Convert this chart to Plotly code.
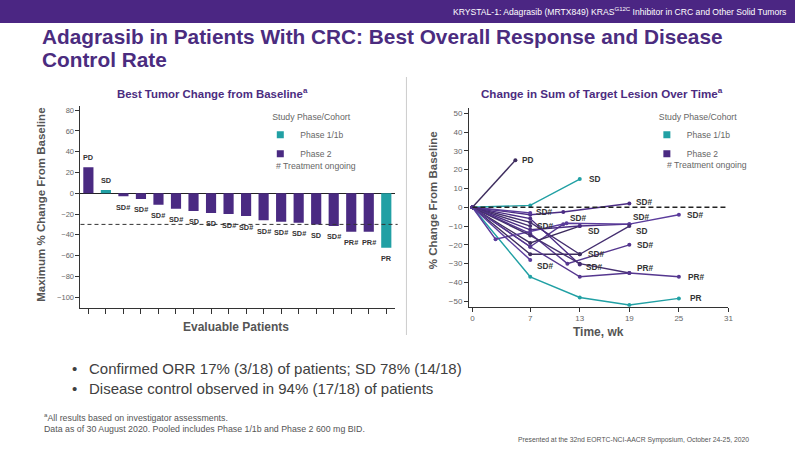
import plotly.graph_objects as go

W, H = 800, 450


def px(x):
    return x / W


def py(y):
    return 1 - y / H


# ---------------- data ----------------
patients = list(range(1, 19))
best_change = [25, 3, -3, -5.5, -11, -15, -17, -19, -20, -22, -26, -27.5, -28.5,
               -30, -31.5, -37, -37, -52.5]
best_response = ["PD", "SD", "SD#", "SD#", "SD#", "SD#", "SD", "SD", "SD#", "SD#",
                 "SD#", "SD#", "SD#", "SD", "SD#", "PR#", "PR#", "PR"]
bar_cohort = ["Phase 2", "Phase 1/1b"] + ["Phase 2"] * 15 + ["Phase 1/1b"]
pr_threshold = -30
left_y_ticks = [80, 60, 40, 20, 0, -20, -40, -60, -80, -100]

spider_weeks = [
    [0, 5.2],
    [0, 7, 13],
    [0, 7, 13, 19, 25],
    [0, 7, 11, 19],
    [0, 7],
    [0, 7],
    [0, 7, 11],
    [0, 7, 13],
    [0, 7, 13, 19],
    [0, 2.8, 11.4, 19, 25],
    [0, 7, 13, 19],
    [0, 7, 11.5, 19],
    [0, 7, 13],
    [0, 7, 13],
    [0, 7],
    [0, 7, 13, 19],
    [0, 7, 13, 19, 25],
]
spider_change = [
    [0, 25],
    [0, 1, 15],
    [0, -37, -48, -52, -48.5],
    [0, -4, -2.5, 2],
    [0, -3],
    [0, -10],
    [0, -21, -9],
    [0, -19, -10],
    [0, -12, -10, -9],
    [0, -17, -8.5, -9, -4],
    [0, -8, -25, -10],
    [0, -14, -30, -20],
    [0, -25, -25],
    [0, -6, -30.5],
    [0, -28],
    [0, -15, -30, -35],
    [0, -21, -37, -35, -37],
]
spider_response = ["PD", "SD", "PR", "SD#", "SD#", "SD#", "SD#", "SD", "SD#", "SD#",
                   "SD", "SD#", "SD#", "SD#", "SD#", "PR#", "PR#"]
spider_cohort = ["Phase 2", "Phase 1/1b", "Phase 1/1b"] + ["Phase 2"] * 14
time_ticks = [0, 7, 13, 19, 25, 31]
right_y_ticks = [50, 40, 30, 20, 10, 0, -10, -20, -30, -40, -50]
cohorts = ["Phase 1/1b", "Phase 2"]

# ---------------- styles ----------------
FONT = "Liberation Sans, Arial, sans-serif"
PURPLE = "#4A2A82"
TEAL = "#21A0A4"
TITLE_PURPLE = "#4B2C7F"
AXIS_GREY = "#555555"
COHORT_COLOR = {"Phase 1/1b": TEAL, "Phase 2": PURPLE}
LINE_SHADES = ["#3E2D5E", "#4B2C84", "#5B3C9C", "#452F70", "#55378F"]
# label pixel offsets (xshift, yshift) for spider end labels
label_offsets = [(5, 0), (7, 0), (9, 0), (5, 2), (4, 1), (5, 0), (5, 6), (6, -5), (2, 7),
                 (6, 0), (5, -5), (6, 0), (6, 0), (4, -2), (5, -6), (6, 5), (7, 0)]

fig = go.Figure()

# ---------------- left: waterfall ----------------
fig.add_trace(go.Bar(
    x=patients, y=best_change,
    marker=dict(color=[COHORT_COLOR[c] for c in bar_cohort], line=dict(width=0)),
    width=0.58, showlegend=False, xaxis="x", yaxis="y", hoverinfo="skip",
))

annotations = []
for p, v, lab in zip(patients, best_change, best_response):
    annotations.append(dict(
        x=p, y=v, xref="x", yref="y", text=f"<b>{lab}</b>", showarrow=False,
        yanchor="middle", yshift=10 if v > 0 else -11,
        font=dict(family=FONT, size=7.3, color="#333333"),
    ))

# ---------------- right: spider plot ----------------
shade_i = 0
for i, (wk, ch, lab, coh) in enumerate(zip(spider_weeks, spider_change, spider_response, spider_cohort)):
    if coh == "Phase 1/1b":
        col = TEAL
    else:
        col = LINE_SHADES[shade_i % len(LINE_SHADES)]
        shade_i += 1
    fig.add_trace(go.Scatter(
        x=wk, y=ch, mode="lines+markers", xaxis="x2", yaxis="y2",
        line=dict(color=col, width=1.4), marker=dict(color=col, size=4),
        showlegend=False, hoverinfo="skip",
    ))
    dx, dy = label_offsets[i]
    annotations.append(dict(
        x=wk[-1], y=ch[-1], xref="x2", yref="y2", text=f"<b>{lab}</b>", showarrow=False,
        xanchor="left", yanchor="middle", xshift=dx, yshift=dy,
        font=dict(family=FONT, size=8.3, color="#333333"),
    ))

# legend entries (library legends)
for lg in ["legend", "legend2"]:
    for c in cohorts:
        fig.add_trace(go.Scatter(
            x=[None], y=[None], mode="markers", name=c, legend=lg,
            marker=dict(symbol="square", size=7, color=COHORT_COLOR[c]),
            xaxis="x" if lg == "legend" else "x2", yaxis="y" if lg == "legend" else "y2",
        ))

legend_common = dict(
    title=dict(text="Study Phase/Cohort", font=dict(family=FONT, size=8.7, color="#666666")),
    font=dict(family=FONT, size=8.5, color="#666666"),
    bgcolor="rgba(0,0,0,0)", borderwidth=0, indentation=-10,
    xanchor="left", yanchor="top", tracegroupgap=0, itemwidth=30,
)

shapes = [
    # banner
    dict(type="rect", xref="paper", yref="paper", x0=0, x1=1, y0=py(23), y1=1,
         fillcolor="#4B2683", line=dict(width=0), layer="below"),
    # separator
    dict(type="line", xref="paper", yref="paper", x0=px(409), x1=px(409), y0=py(77), y1=py(335),
         line=dict(color="#CCCCCC", width=1)),
    # PR threshold line
    dict(type="line", xref="x domain", yref="y", x0=0, x1=1.01, y0=pr_threshold, y1=pr_threshold,
         line=dict(color="#333333", width=1, dash="4px,3px")),
    # zero reference on spider
    dict(type="line", xref="x2", yref="y2", x0=0, x1=time_ticks[-1], y0=0, y1=0,
         line=dict(color="#222222", width=1.3, dash="5px,3px")),
]


def ann(x, y, text, size, color, bold=False, xanchor="left", angle=0):
    return dict(x=px(x), y=py(y), xref="paper", yref="paper", text=f"<b>{text}</b>" if bold else text,
                showarrow=False, xanchor=xanchor, yanchor="middle", textangle=angle,
                font=dict(family=FONT, size=size, color=color))


annotations += [
    ann(793, 12, "KRYSTAL-1: Adagrasib (MRTX849) KRAS<sup>G12C</sup> Inhibitor in CRC and Other Solid Tumors",
        8.6, "white", xanchor="right"),
    ann(40, 37, "Adagrasib in Patients With CRC: Best Overall Response and Disease", 20.8, TITLE_PURPLE, bold=True),
    ann(40, 59, "Control Rate", 20.8, TITLE_PURPLE, bold=True),
    ann(214, 93, "Best Tumor Change from Baseline<sup>a</sup>", 11.4, TITLE_PURPLE, bold=True, xanchor="center"),
    ann(606, 93, "Change in Sum of Target Lesion Over Time<sup>a</sup>", 11.6, TITLE_PURPLE, bold=True, xanchor="center"),
    ann(41, 205, "Maximum % Change From Baseline", 11.5, AXIS_GREY, bold=True, xanchor="center", angle=-90),
    ann(237, 327, "Evaluable Patients", 12, AXIS_GREY, bold=True, xanchor="center"),
    ann(436, 200, "% Change From Baseline", 11.5, AXIS_GREY, bold=True, xanchor="center", angle=-90),
    ann(602, 332, "Time, wk", 12, AXIS_GREY, bold=True, xanchor="center"),
    ann(276, 166, "# Treatment ongoing", 8.7, "#666666"),
    ann(669, 165, "# Treatment ongoing", 8.7, "#666666"),
    ann(70, 368, "•", 15, "#404040"),
    ann(88, 368, "Confirmed ORR 17% (3/18) of patients; SD 78% (14/18)", 15, "#404040"),
    ann(70, 388, "•", 15, "#404040"),
    ann(88, 388, "Disease control observed in 94% (17/18) of patients", 15, "#404040"),
    ann(42, 417, "<sup>a</sup>All results based on investigator assessments.", 8.8, "#555555"),
    ann(42, 429, "Data as of 30 August 2020. Pooled includes Phase 1/1b and Phase 2 600 mg BID.", 8.8, "#555555"),
    ann(756, 440, "Presented at the 32nd EORTC-NCI-AACR Symposium, October 24-25, 2020", 6.8, "#555555",
        xanchor="right"),
]

axis_common = dict(showgrid=False, showline=True, linecolor="#333333", linewidth=1,
                   ticks="outside", tickcolor="#333333", ticklen=4, tickwidth=1)

fig.update_layout(
    width=W, height=H, autosize=False,
    margin=dict(l=0, r=0, t=0, b=0),
    paper_bgcolor="white", plot_bgcolor="rgba(0,0,0,0)",
    font=dict(family=FONT),
    xaxis=dict(domain=[px(81), px(397)], range=[0.55, 18.47], tickvals=patients,
               showticklabels=False, zeroline=False, anchor="y", ticklen=5,
               **{k: v for k, v in axis_common.items() if k != "ticklen"}),
    yaxis=dict(domain=[py(308), py(106)], range=[-110.5, 84], tickvals=left_y_ticks,
               zeroline=True, zerolinecolor="#222222", zerolinewidth=1.2, anchor="x",
               tickfont=dict(family=FONT, size=7.5, color="#666666"), **axis_common),
    xaxis2=dict(domain=[px(472), px(733)], range=[-0.41, 31], tickvals=time_ticks,
                zeroline=False, anchor="y2",
                tickfont=dict(family=FONT, size=8, color="#666666"), **axis_common),
    yaxis2=dict(domain=[py(306.7), py(108)], range=[-52.9, 52.8], tickvals=right_y_ticks,
                zeroline=False, anchor="x2",
                tickfont=dict(family=FONT, size=8, color="#666666"), **axis_common),
    legend=dict(x=px(272), y=py(109), **legend_common),
    legend2=dict(x=px(661), y=py(109), **legend_common),
    shapes=shapes,
    annotations=annotations,
)

fig.write_html("out.html", config={"displayModeBar": False},
               post_script="document.body.style.margin='0';document.body.style.overflow='hidden';")
